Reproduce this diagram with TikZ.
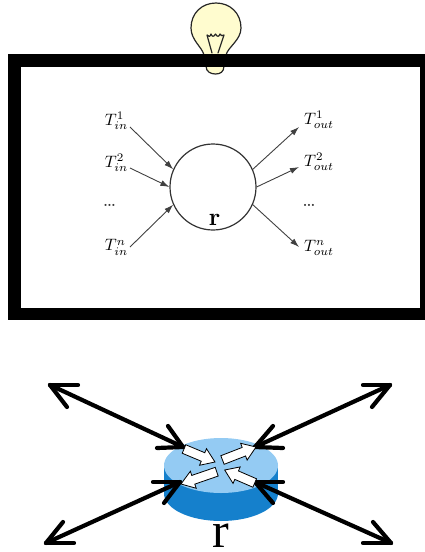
\documentclass[tikz,border=0pt]{standalone}
\usepackage{fontspec}
\newfontfamily\rfont{Liberation Serif}
\usetikzlibrary{calc,arrows.meta}
\definecolor{topblue}{HTML}{94CBF3}
\definecolor{sideblue}{HTML}{1580CC}
\definecolor{bulbfill}{HTML}{FFFCCF}
\tikzset{
  frame/.style={draw=black,line width=12.5pt,miter limit=10},
  thinarrow/.style={draw=black!75,line width=0.9pt,-{Latex[length=9pt,width=6pt]}},
  thick arrow/.style={draw=black,line width=4.2pt,line cap=round,line join=round},
  barb/.style={draw=black,line width=4.2pt,line cap=round,line join=round},
  tlabel/.style={inner sep=0pt,scale=1.65},
  dotlabel/.style={inner sep=0pt,text=black!80,scale=2},
  bulbline/.style={draw=black!85,line width=1.2pt,line join=round,line cap=round}
}
\newcommand{\openbarbs}[3]{\draw[barb] (#1) -- (#2); \draw[barb] (#1) -- (#3);}
\newcommand{\blockarr}[2]{%
  \fill[white,draw=black,line width=0.8pt,line join=miter]
    ($(#1)!4.6pt!90:(#2)$) --
    ($(#2)!13pt!(#1)!4.6pt!90:(#2)$) --
    ($(#2)!13pt!(#1)!9pt!90:(#2)$) --
    (#2) --
    ($(#2)!13pt!(#1)!9pt!-90:(#2)$) --
    ($(#2)!13pt!(#1)!4.6pt!-90:(#2)$) --
    ($(#1)!4.6pt!-90:(#2)$) -- cycle;}
\begin{document}
\begin{tikzpicture}[x=1pt,y=-1pt]
\useasboundingbox (0,0) rectangle (425,552);
% bulb
\draw[bulbline,fill=bulbfill] (204,55)
  .. controls (202,47) and (191,40) .. (191,28)
  .. controls (191,13) and (202,3) .. (216,3)
  .. controls (230,3) and (241,13) .. (241,28)
  .. controls (241,40) and (228,47) .. (226,55)
  -- (224,66) .. controls (224,72) and (220,74) .. (215.5,74)
  .. controls (211,74) and (206,72) .. (206,66) -- cycle;
\draw[bulbline] (212,53) -- (207,35) .. controls (209,37) and (210,37) .. (211,34)
  .. controls (212,37) and (214,37) .. (215.5,34) .. controls (217,37) and (219,37) .. (220,34)
  .. controls (221,36) and (222,36) .. (224,35) -- (218,53);
% frame
\draw[frame] (14.3,60.3) rectangle (426,314);
% circle
\node[circle,draw=black!80,line width=1.2pt,minimum size=86pt,inner sep=0pt] (r) at (213,187) {};
\node[inner sep=0pt,font=\fontsize{25}{25}\selectfont\bfseries] (rl) at (214.5,220) {r};
% labels
\node[tlabel] (i1) at (116.5,121) {$T^{1}_{in}$};
\node[tlabel] (i2) at (116.5,163) {$T^{2}_{in}$};
\node[dotlabel] (id) at (109.5,205) {\dots};
\node[tlabel] (in) at (116.5,247.5) {$T^{n}_{in}$};
\node[tlabel] (o1) at (319,120) {$T^{1}_{out}$};
\node[tlabel] (o2) at (319,162) {$T^{2}_{out}$};
\node[dotlabel] (od) at (309,205) {\dots};
\node[tlabel] (on) at (319,248) {$T^{n}_{out}$};
\coordinate (ci1) at (130,127); \coordinate (ci2) at (130,168); \coordinate (cin) at (130,247);
\coordinate (co1) at (299,127); \coordinate (co2) at (299,167); \coordinate (con) at (299,247);
\draw[thinarrow] (ci1) -- (r.156);
\draw[thinarrow] (ci2) -- (r.180);
\draw[thinarrow] (cin) -- (r.204);
\draw[thinarrow] (r.24) -- (co1);
\draw[thinarrow] (r.0) -- (co2);
\draw[thinarrow] (r.-24) -- (con);
% router
\fill[sideblue] (221,493.5) ellipse[x radius=57,y radius=27.5];
\fill[sideblue] (164,465) rectangle (278,493.5);
\fill[topblue] (221,465.5) ellipse[x radius=57,y radius=27.5];
\node[inner sep=0pt,anchor=base,font=\rfont\fontsize{50}{50}\selectfont] (rb) at (221,547) {r};
% corner points
\coordinate (UL) at (50,385); \coordinate (ULa) at (78,385); \coordinate (ULb) at (67,407);
\coordinate (ulc) at (183,447); \coordinate (ulca) at (168,426); \coordinate (ulcb) at (157,448);
\coordinate (UR) at (390,385); \coordinate (URa) at (363,385); \coordinate (URb) at (372,407);
\coordinate (urc) at (255,447); \coordinate (urca) at (273,426); \coordinate (urcb) at (283,448);
\coordinate (LL) at (46,543); \coordinate (LLa) at (74,543); \coordinate (LLb) at (63,522);
\coordinate (llc) at (180,482); \coordinate (llca) at (153,482); \coordinate (llcb) at (164,503);
\coordinate (LR) at (391,543); \coordinate (LRa) at (363,543); \coordinate (LRb) at (373,522);
\coordinate (lrc) at (255,482); \coordinate (lrca) at (283,482); \coordinate (lrcb) at (273,503);
\draw[thick arrow] (UL) -- (ulc); \openbarbs{UL}{ULa}{ULb} \openbarbs{ulc}{ulca}{ulcb}
\draw[thick arrow] (UR) -- (urc); \openbarbs{UR}{URa}{URb} \openbarbs{urc}{urca}{urcb}
\draw[thick arrow] (LL) -- (llc); \openbarbs{LL}{LLa}{LLb} \openbarbs{llc}{llca}{llcb}
\draw[thick arrow] (LR) -- (lrc); \openbarbs{LR}{LRa}{LRb} \openbarbs{lrc}{lrca}{lrcb}
% block arrows
\coordinate (b1s) at (184,449); \coordinate (b1e) at (215,462);
\coordinate (b2s) at (222.5,460); \coordinate (b2e) at (256,447);
\coordinate (b3s) at (216.7,471.7); \coordinate (b3e) at (181,484);
\coordinate (b4s) at (254.7,483); \coordinate (b4e) at (224.7,470);
\blockarr{b1s}{b1e}
\blockarr{b2s}{b2e}
\blockarr{b3s}{b3e}
\blockarr{b4s}{b4e}
\end{tikzpicture}
\end{document}
